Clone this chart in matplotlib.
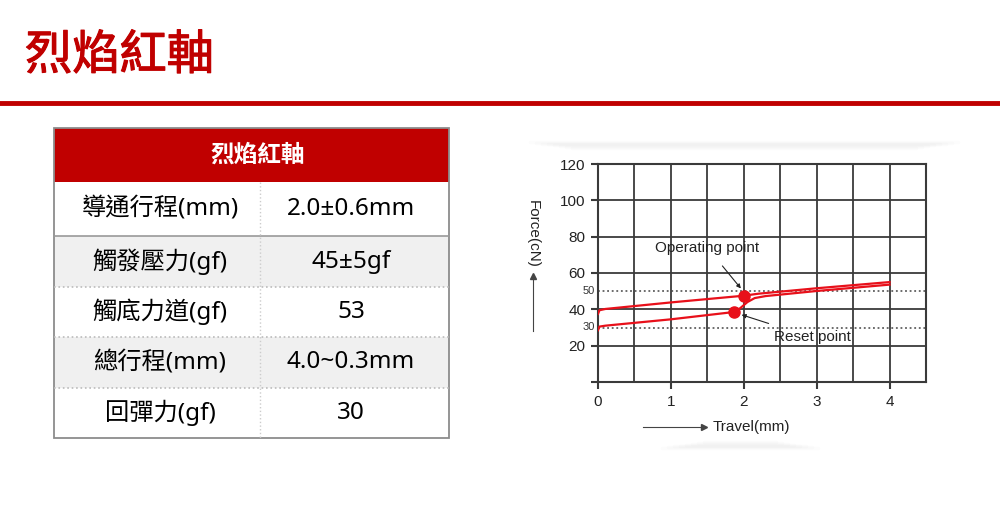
import numpy as np
import matplotlib.pyplot as plt
import matplotlib.patheffects as pe
from matplotlib.patches import Rectangle

plt.rcParams['font.family'] = ['Noto Sans CJK TC', 'DejaVu Sans']

# 表格数据
title = "烈焰紅軸"
row_labels = ["導通行程(mm)", "觸發壓力(gf)", "觸底力道(gf)", "總行程(mm)", "回彈力(gf)"]
row_values = ["2.0±0.6mm", "45±5gf", "53", "4.0~0.3mm", "30"]

# 力-行程曲线数据
press_x = [0.0, 0.02, 0.1, 1.0, 2.0, 2.2, 3.0, 4.0]
press_y = [37.5, 39.5, 40.2, 43.8, 47.5, 48.6, 51.6, 55.0]
release_x = [0.0, 0.02, 0.1, 1.0, 1.86, 1.95, 2.05, 2.15, 2.3, 3.0, 4.0]
release_y = [28.5, 30.5, 31.0, 34.5, 38.5, 40.6, 44.0, 46.2, 47.3, 50.1, 53.6]
operating_pt = (2.0, 47.5)
reset_pt = (1.86, 38.5)
y_ticks = [0, 20, 40, 60, 80, 100, 120]
y_ticklabels = ["", "20", "40", "60", "80", "100", "120"]
x_ticks = [0, 1, 2, 3, 4]
ref_lines = [30, 50]

RED = "#c00000"
W, H = 1000, 515
LATIN = ['Liberation Sans', 'DejaVu Sans']

fig = plt.figure(figsize=(10, 5.15), dpi=100)


def fx(px):
    return px / W


def fy(py):
    return 1 - py / H


# 标题与红线
fig.text(fx(25), fy(56), title, color=RED, fontsize=34, va='center', ha='left',
         path_effects=[pe.withStroke(linewidth=0.8, foreground=RED)])
fig.add_artist(plt.Line2D([0, 1], [fy(103), fy(103)], color=RED, lw=3.5))

# 表格
left, right, mid = 54, 449, 260
rows = [128, 182, 236, 287, 337, 388, 438]
fig.add_artist(Rectangle((fx(left), fy(rows[1])), fx(right - left), fy(rows[0]) - fy(rows[1]),
                         facecolor=RED, edgecolor='none'))
fig.text(fx(258), fy(155), title, color='white', fontsize=17, fontweight='bold',
         ha='center', va='center')
for i, (lab, val) in enumerate(zip(row_labels, row_values)):
    top, bot = rows[i + 1], rows[i + 2]
    bg = '#f0f0f0' if i % 2 == 1 else 'white'
    fig.add_artist(Rectangle((fx(left), fy(bot)), fx(right - left), fy(top) - fy(bot),
                             facecolor=bg, edgecolor='none'))
    yc = fy((top + bot) / 2)
    fig.text(fx(160), yc, lab, fontsize=17.5, ha='center', va='center', color='#000000',
             family=['Noto Sans', 'Noto Sans CJK TC'])
    fig.text(fx(351), yc, val, fontsize=17.5, ha='center', va='center', color='#000000',
             family=['Noto Sans', 'Noto Sans CJK TC'])
    if i > 0:
        ls = '-' if i == 1 else ':'
        c = '#999999' if i == 1 else '#bbbbbb'
        fig.add_artist(plt.Line2D([fx(left), fx(right)], [fy(top), fy(top)], color=c, lw=1.2, ls=ls))
fig.add_artist(plt.Line2D([fx(mid), fx(mid)], [fy(rows[1]), fy(rows[-1])], color='#cccccc', lw=1, ls=':'))
fig.add_artist(Rectangle((fx(left), fy(rows[-1])), fx(right - left), fy(rows[0]) - fy(rows[-1]),
                         facecolor='none', edgecolor='#8c8c8c', lw=1.3))

# 图表阴影 (柔和)
for k in range(8):
    fig.add_artist(plt.Line2D([fx(530 + k * 6), fx(958 - k * 6)], [fy(142 + k * 0.8), fy(142 + k * 0.8)],
                              color='gray', lw=2.5, alpha=0.025, solid_capstyle='round'))
    fig.add_artist(plt.Line2D([fx(662 + k * 6), fx(818 - k * 6)], [fy(448 - k * 0.8), fy(448 - k * 0.8)],
                              color='gray', lw=2.5, alpha=0.025, solid_capstyle='round'))

# 力-行程图
ax = fig.add_axes([fx(598), fy(382), fx(926 - 598), fy(164) - fy(382)])
ax.set_xlim(0, 4.5)
ax.set_ylim(0, 120)
ax.set_xticks(np.arange(0, 4.51, 0.5), minor=True)
ax.set_xticks(x_ticks)
ax.set_yticks(y_ticks)
ax.set_yticklabels(y_ticklabels)
ax.grid(True, which='both', color='#3a3a3a', lw=1.3)
ax.set_axisbelow(True)
for s in ax.spines.values():
    s.set_color('#3a3a3a')
    s.set_linewidth(1.5)
ax.tick_params(axis='both', which='major', direction='out', length=5, width=1.5, color='#3a3a3a',
               labelsize=11, labelcolor='#222222', pad=4)
ax.tick_params(axis='x', which='minor', length=0)
for lab in ax.get_xticklabels() + ax.get_yticklabels():
    lab.set_family(LATIN)

for yv in ref_lines:
    ax.axhline(yv, color='#444444', lw=1.1, ls=(0, (1.2, 1.8)))
    ax.text(-0.04, yv, str(yv), fontsize=8, ha='right', va='center', color='#333333', family=LATIN)

ax.plot(press_x, press_y, color='#e8101a', lw=1.6, zorder=3)
ax.plot(release_x, release_y, color='#e8101a', lw=1.6, zorder=3)
ax.plot(*operating_pt, 'o', color='#e8101a', ms=8, zorder=4)
ax.plot(*reset_pt, 'o', color='#e8101a', ms=8, zorder=4)

ax.annotate("Operating point", xy=(1.96, 51.5), xytext=(1.5, 74), fontsize=11, ha='center', va='center',
            family=LATIN, color='#222222',
            arrowprops=dict(arrowstyle='-|>', color='#222222', lw=0.8, shrinkA=8, shrinkB=0,
                            mutation_scale=6))
ax.annotate("Reset point", xy=(1.97, 37), xytext=(2.94, 24.5), fontsize=11, ha='center', va='center',
            family=LATIN, color='#222222',
            arrowprops=dict(arrowstyle='-|>', color='#222222', lw=0.8, shrinkA=10, shrinkB=0,
                            mutation_scale=6))

# 坐标轴说明
fig.text(fx(713), fy(427), "Travel(mm)", fontsize=11, ha='left', va='center', color='#222222', family=LATIN)
fig.add_artist(plt.Line2D([fx(643), fx(700)], [fy(427), fy(427)], color='#444444', lw=0.8))
fig.add_artist(plt.Line2D([fx(704)], [fy(427)], marker='>', ms=4, color='#444444', lw=0))
fig.text(fx(533), fy(234), "Force(cN)", fontsize=11, ha='center', va='center', rotation=-90,
         color='#222222', family=LATIN)
fig.add_artist(plt.Line2D([fx(533), fx(533)], [fy(331), fy(279)], color='#444444', lw=0.8))
fig.add_artist(plt.Line2D([fx(533)], [fy(276)], marker='^', ms=4, color='#444444', lw=0))

fig.savefig("out.png", dpi=100)
